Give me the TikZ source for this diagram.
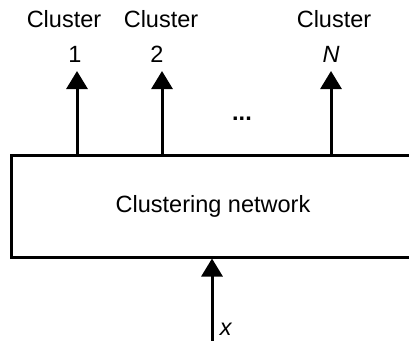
\documentclass[tikz,border=0pt]{standalone}
\usepackage{fontspec}
\setmainfont{Liberation Sans}
\usetikzlibrary{positioning,arrows.meta}

\begin{document}
\begin{tikzpicture}[x=1pt, y=-1pt, line width=3pt,
    lbl/.style={anchor=base, font=\fontsize{23.5}{28}\selectfont},
    flow/.style={-{Triangle[length=18pt,width=21pt]}}]
    \useasboundingbox (0,0) rectangle (409,340);
    \clip (0,0) rectangle (409,340);
    \node(net) [draw, minimum width=403pt, minimum height=102pt, font=\fontsize{23.5}{28}\selectfont] at (213,206) {Clustering network};

    \coordinate(t1) at (77,71);
    \coordinate(t2) at (162,71);
    \coordinate(tN) at (331,71);
    \coordinate(src) at (212,345);

    \node(n1) [lbl] at (75,62) {1};
    \node(n2) [lbl] at (157,62) {2};
    \node(nN) [lbl] at (331,62) {\textit{N}};
    \node(c1) [lbl] at (64,27) {Cluster};
    \node(c2) [lbl] at (161,27) {Cluster};
    \node(cN) [lbl] at (334,27) {Cluster};
    \node(dots) [lbl] at (242,120) {\textbf{...}};
    \node(x) [lbl] at (226,335) {\textit{x}};

    \draw[flow] (net.north -| t1) -- (t1);
    \draw[flow] (net.north -| t2) -- (t2);
    \draw[flow] (net.north -| tN) -- (tN);
    \draw[flow] (src) -- (net.south -| src);
\end{tikzpicture}
\end{document}
